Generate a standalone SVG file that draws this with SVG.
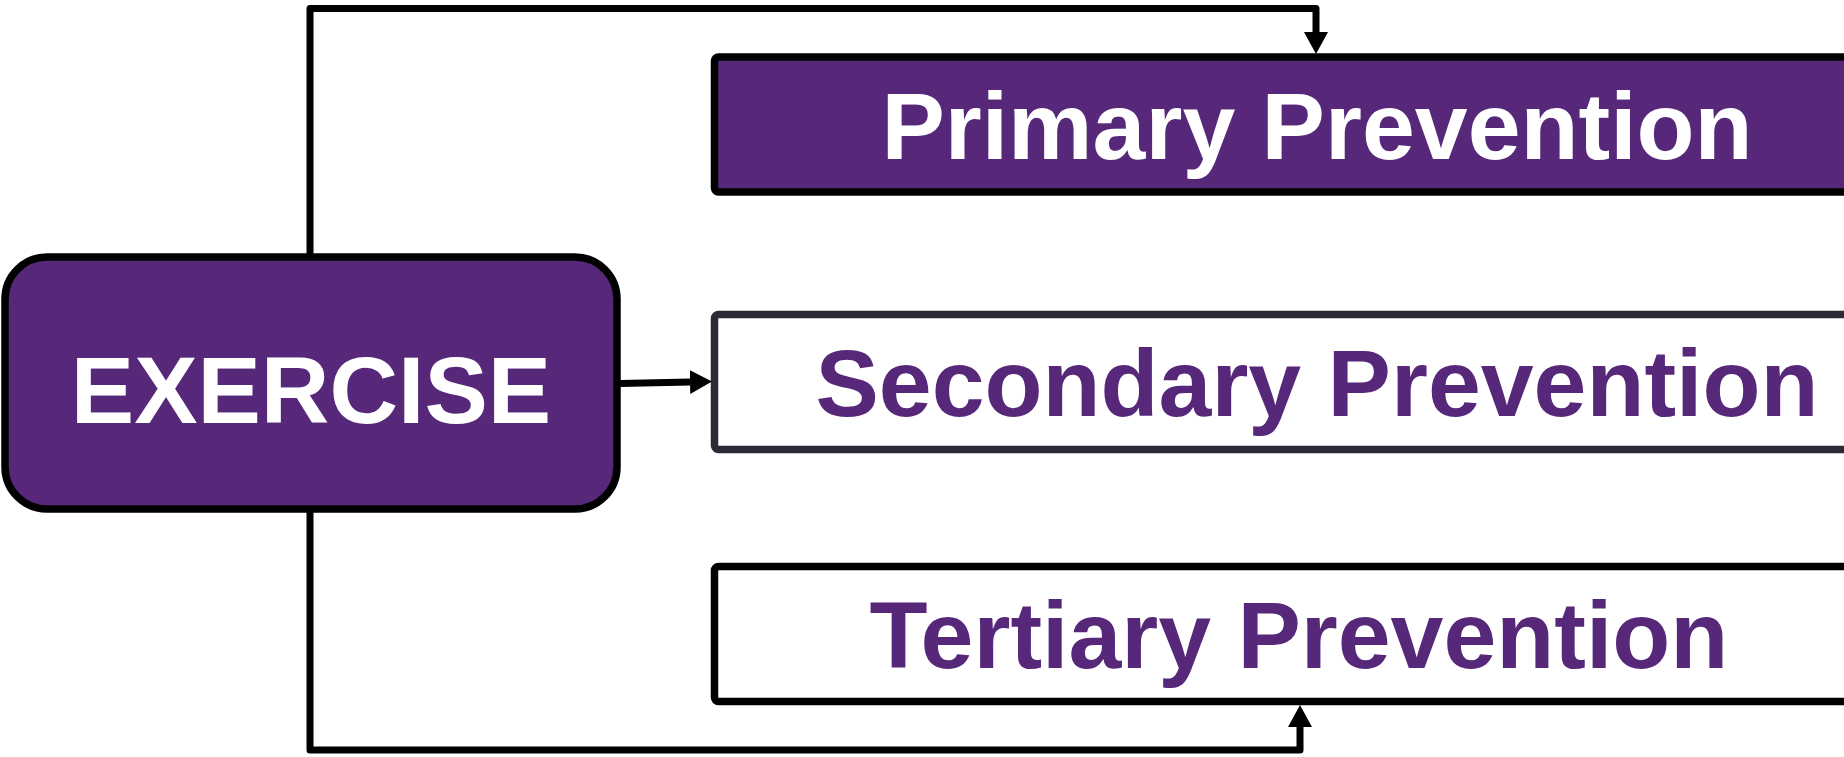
<svg xmlns="http://www.w3.org/2000/svg" width="1844" height="757" viewBox="0 0 1844 757">
  <style>
    .lbl { font-family: "Liberation Sans", Arial, sans-serif; font-weight: bold; font-size: 95px; text-anchor: middle; }
    .white { fill: #ffffff; }
    .purple { fill: #57287A; }
    .conn { fill: none; stroke: #000000; stroke-width: 7; stroke-linejoin: round; }
  </style>
  <defs>
    <marker id="arrow" viewBox="0 0 22 24" refX="0" refY="12" markerWidth="22" markerHeight="24" markerUnits="userSpaceOnUse" orient="auto">
      <path d="M0,0 L22,12 L0,24 z" fill="#000000"/>
    </marker>
  </defs>
  <rect x="0" y="0" width="1844" height="757" fill="#ffffff"/>

  <g id="exercise">
    <rect x="5" y="257" width="612" height="252" rx="42" ry="42" fill="#57287A" stroke="#000000" stroke-width="7.5"/>
    <text class="lbl white" x="311" y="423">EXERCISE</text>
  </g>

  <g id="primary">
    <rect x="714.5" y="57" width="1200" height="135" rx="4" ry="4" fill="#57287A" stroke="#000000" stroke-width="7.5"/>
    <text class="lbl white" x="1317" y="159">Primary Prevention</text>
  </g>

  <g id="secondary">
    <rect x="714.5" y="314.5" width="1200" height="135" rx="4" ry="4" fill="#ffffff" stroke="#2B2A35" stroke-width="7.5"/>
    <text class="lbl purple" x="1317" y="416">Secondary Prevention</text>
  </g>

  <g id="tertiary">
    <rect x="714.5" y="566.5" width="1200" height="135" rx="4" ry="4" fill="#ffffff" stroke="#000000" stroke-width="7.5"/>
    <text class="lbl purple" x="1299" y="668">Tertiary Prevention</text>
  </g>

  <g id="connectors">
    <path class="conn" d="M310,254 V8.5 H1316 V32" marker-end="url(#arrow)"/>
    <path class="conn" d="M620,383.5 L690,382" marker-end="url(#arrow)"/>
    <path class="conn" d="M310,512 V750 H1300 V727" marker-end="url(#arrow)"/>
  </g>
</svg>
